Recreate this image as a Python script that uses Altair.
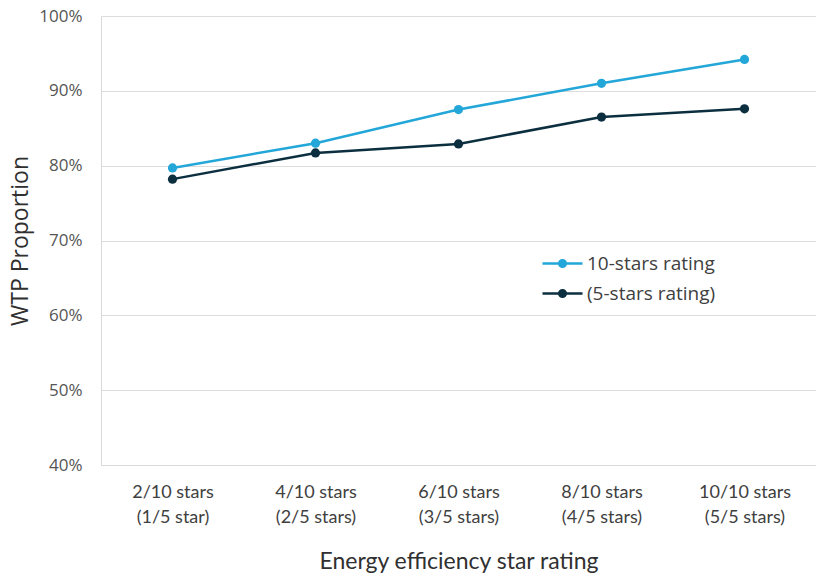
import altair as alt
import pandas as pd

# Star-rating levels shown on the x axis (two-line labels split on "\n")
categories = [
    "2/10 stars\n(1/5 star)",
    "4/10 stars\n(2/5 stars)",
    "6/10 stars\n(3/5 stars)",
    "8/10 stars\n(4/5 stars)",
    "10/10 stars\n(5/5 stars)",
]
series_names = ["10-stars rating", "(5-stars rating)"]
ten_star_wtp = [0.797, 0.830, 0.875, 0.910, 0.942]
five_star_wtp = [0.782, 0.817, 0.829, 0.865, 0.876]
series_colors = ["#23a6d8", "#0c2f40"]

rows = []
for cat, v in zip(categories, ten_star_wtp):
    rows.append({"rating": cat, "series": series_names[0], "wtp": v})
for cat, v in zip(categories, five_star_wtp):
    rows.append({"rating": cat, "series": series_names[1], "wtp": v})
df = pd.DataFrame(rows)

series_scale = alt.Scale(domain=series_names, range=series_colors)

# Legend glyph: a horizontal stroke with a solid dot (concentric rings) in the middle
glyph = (
    "M -2,0 L 2,0 "
    "M -0.33,0 A 0.33 0.33 0 1 1 0.33 0 A 0.33 0.33 0 1 1 -0.33 0 "
    "M -0.22,0 A 0.22 0.22 0 1 1 0.22 0 A 0.22 0.22 0 1 1 -0.22 0 "
    "M -0.11,0 A 0.11 0.11 0 1 1 0.11 0 A 0.11 0.11 0 1 1 -0.11 0"
)

legend = alt.Legend(
    title=None,
    orient="none",
    legendX=450,
    legendY=236,
    symbolType=glyph,
    symbolSize=400,
    symbolStrokeWidth=2.5,
    symbolOpacity=1,
    labelFont="Open Sans",
    labelFontSize=19,
    labelColor="#404040",
    labelOffset=13,
    rowPadding=8,
)

x = alt.X(
    "rating:N",
    sort=categories,
    scale=alt.Scale(paddingOuter=0.5, paddingInner=0),
    axis=alt.Axis(
        title="Energy efficiency star rating",
        labelExpr="split(datum.label, '\\n')",
        labelAngle=0,
        labelFont="Lato",
        labelFontSize=18,
        labelColor="#404040",
        labelLineHeight=25,
        labelPadding=18,
        ticks=False,
        domainColor="#d9d9d9",
        titleFont="Lato",
        titleFontSize=23,
        titleFontWeight="normal",
        titleColor="#303030",
        titlePadding=24,
        grid=False,
    ),
)

y = alt.Y(
    "wtp:Q",
    scale=alt.Scale(domain=[0.4, 1.0], nice=False, zero=False),
    axis=alt.Axis(
        title="WTP Proportion",
        format=".0%",
        values=[0.4, 0.5, 0.6, 0.7, 0.8, 0.9, 1.0],
        labelFont="Open Sans",
        labelFontSize=17,
        labelColor="#555555",
        labelPadding=19,
        ticks=False,
        domainColor="#d9d9d9",
        gridColor="#dcdcdc",
        titleFont="Open Sans",
        titleFontSize=23,
        titleFontWeight="normal",
        titleColor="#303030",
        titlePadding=6,
    ),
)

lines = alt.Chart(df).mark_line(strokeWidth=2.5).encode(
    x=x, y=y,
    color=alt.Color("series:N", sort=series_names, scale=series_scale, legend=legend),
)
points = alt.Chart(df).mark_point(filled=True, size=85, opacity=1).encode(
    x=x, y=y,
    color=alt.Color("series:N", sort=series_names, scale=series_scale, legend=None),
)

chart = (
    alt.layer(lines, points)
    .properties(
        width=715,
        height=449,
        autosize=alt.AutoSizeParams(type="none"),
        padding={"left": 101, "top": 16, "right": 0, "bottom": 111},
        background="white",
    )
    .configure_view(stroke=None)
)

chart.save("out.html", embed_options={"renderer": "svg", "actions": False})
